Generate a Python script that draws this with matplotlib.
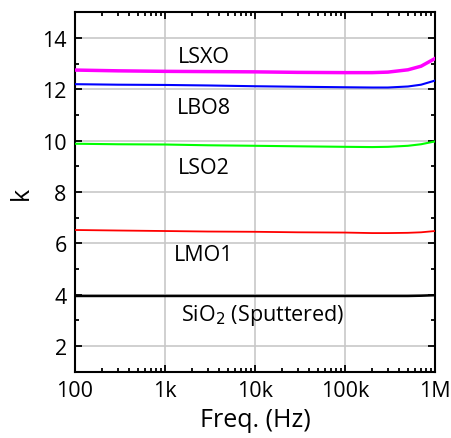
import numpy as np
import matplotlib
matplotlib.use("Agg")
import matplotlib.pyplot as plt
from matplotlib.ticker import FixedLocator, NullFormatter, LogLocator

plt.rcParams['font.family'] = ['Open Sans', 'DejaVu Sans']

# frequency points (Hz) and dielectric constant k of each film
freq = [100, 300, 1e3, 3e3, 1e4, 3e4, 1e5, 2e5, 3e5, 5e5, 7e5, 1e6]
k_lsxo = [12.75, 12.72, 12.70, 12.69, 12.68, 12.66, 12.65, 12.65, 12.67, 12.76, 12.90, 13.20]
k_lbo8 = [12.20, 12.18, 12.17, 12.15, 12.12, 12.10, 12.08, 12.07, 12.07, 12.11, 12.18, 12.34]
k_lso2 = [9.88, 9.86, 9.85, 9.82, 9.80, 9.78, 9.76, 9.75, 9.76, 9.80, 9.86, 9.97]
k_lmo1 = [6.52, 6.50, 6.48, 6.46, 6.45, 6.43, 6.42, 6.40, 6.40, 6.41, 6.43, 6.48]
k_sio2 = [3.95, 3.95, 3.95, 3.95, 3.95, 3.95, 3.95, 3.95, 3.95, 3.95, 3.96, 3.98]

series = [
    (k_lsxo, '#ff00ff', 2.5, 'LSXO', (2700, 13.26)),
    (k_lbo8, '#0000ff', 1.5, 'LBO8', (2700, 11.31)),
    (k_lso2, '#00ff00', 1.5, 'LSO2', (2700, 8.97)),
    (k_lmo1, '#ff0000', 1.3, 'LMO1', (2700, 5.58)),
    (k_sio2, '#000000', 1.8, 'SiO$_2$ (Sputtered)', (12300, 3.21)),
]

fig = plt.figure(figsize=(4.52, 4.39), dpi=100)
ax = fig.add_axes([75/452, 1 - 372.7/439, 360/452, 359.4/439])

for k, col, lw, name, (tx, ty) in series:
    ax.plot(freq, k, color=col, lw=lw, zorder=3)
    ax.text(tx, ty, name, ha='center', va='center', fontsize=15.5)

ax.set_xscale('log')
ax.set_xlim(100, 1e6)
ax.set_ylim(1, 15)
ax.set_xticks([1e2, 1e3, 1e4, 1e5, 1e6])
ax.set_xticklabels(['100', '1k', '10k', '100k', '1M'])
ax.xaxis.set_minor_locator(LogLocator(base=10, subs=np.arange(2, 10)))
ax.xaxis.set_minor_formatter(NullFormatter())
ax.set_yticks([2, 4, 6, 8, 10, 12, 14])
ax.yaxis.set_minor_locator(FixedLocator([3, 5, 7, 9, 11, 13]))

ax.grid(True, which='major', color='#c8c8c8', lw=1.2)
ax.tick_params(which='both', direction='in', top=True, right=True,
               labelsize=15.5, width=1.3)
ax.tick_params(which='major', length=5, pad=6)
ax.tick_params(which='minor', length=3)
for s in ax.spines.values():
    s.set_linewidth(1.5)

ax.set_xlabel('Freq. (Hz)', fontsize=18, labelpad=4)
ax.set_ylabel('k', fontsize=18, labelpad=6)

fig.savefig('out.png', dpi=100)
